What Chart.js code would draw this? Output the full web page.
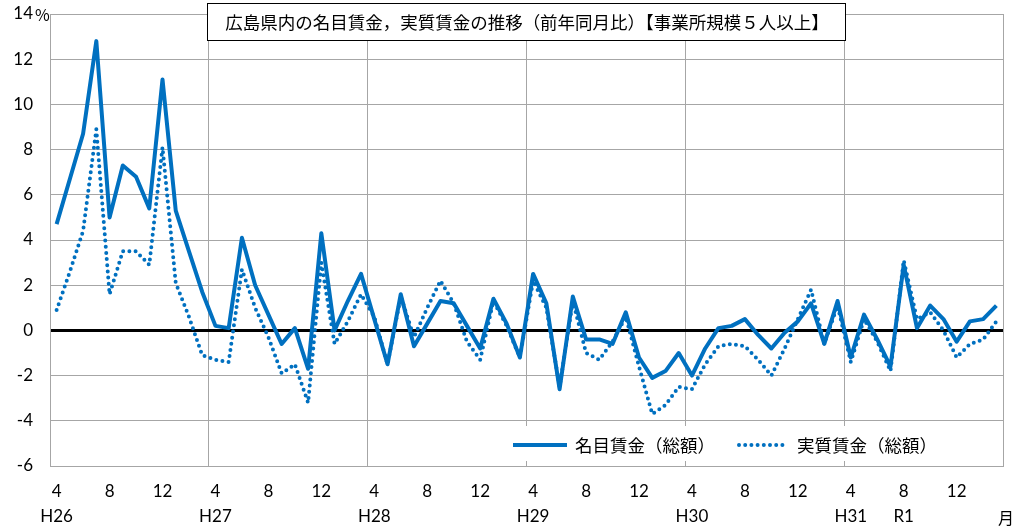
<!DOCTYPE html>
<html>
<head>
<meta charset="utf-8">
<script src="https://cdn.jsdelivr.net/npm/chart.js@4.4.1/dist/chart.umd.min.js"></script>
<style>
  html, body { margin: 0; padding: 0; background: #fff; }
  #wrap { width: 1016px; height: 531px; }
</style>
</head>
<body>
<div id="wrap"><canvas id="c" width="1016" height="531"></canvas></div>
<script>
// Monthly series, April 2014 (H26) to March 2020, year-on-year change (%)
const startYear = 2014;
const startMonth = 4;

const nominal = [
  4.7, 6.7, 8.7, 12.8, 5.0, 7.3, 6.8, 5.4, 11.1, 5.3,
  3.5, 1.7, 0.2, 0.1, 4.1, 2.0, 0.7, -0.6, 0.1, -1.7,
  4.3, 0.0, 1.3, 2.5, 0.5, -1.5, 1.6, -0.7, 0.3, 1.3,
  1.2, 0.2, -0.8, 1.4, 0.3, -1.2, 2.5, 1.2, -2.6, 1.5,
  -0.4, -0.4, -0.6, 0.8, -1.2, -2.1, -1.8, -1.0, -2.0, -0.8,
  0.1, 0.2, 0.5, -0.2, -0.8, -0.1, 0.4, 1.2, -0.6, 1.3,
  -1.2, 0.7, -0.4, -1.6, 2.9, 0.1, 1.1, 0.5, -0.5, 0.4,
  0.5, 1.1
];

const real = [
  0.9, 2.6, 4.4, 8.9, 1.6, 3.5, 3.5, 2.9, 8.1, 2.1,
  0.6, -1.1, -1.3, -1.4, 2.7, 1.0, -0.3, -1.9, -1.5, -3.2,
  3.0, -0.6, 0.4, 1.6, 0.6, -1.5, 1.5, -0.3, 1.0, 2.2,
  1.2, -0.5, -1.3, 1.3, 0.2, -1.2, 2.2, 1.0, -2.5, 1.3,
  -1.0, -1.3, -0.5, 0.6, -1.6, -3.7, -3.3, -2.5, -2.6, -1.5,
  -0.7, -0.6, -0.7, -1.3, -2.0, -0.8, 0.5, 1.8, -0.6, 1.1,
  -1.4, 0.5, -0.5, -1.8, 3.1, 0.5, 0.8, 0.0, -1.2, -0.6,
  -0.4, 0.4
];

const yMin = -6;
const yMax = 14;
const yStep = 2;

// era marks placed under the month number (index into the month list)
const eraTicks = [[0, 'H26'], [12, 'H27'], [24, 'H28'], [36, 'H29'], [48, 'H30'], [60, 'H31'], [64, 'R1']];

const seriesNames = ['名目賃金（総額）', '実質賃金（総額）'];
const titleText = '広島県内の名目賃金，実質賃金の推移（前年同月比）【事業所規模５人以上】';
const unitY = '%';
const unitX = '月';

const months = nominal.map((_, i) => ((startMonth - 1 + i) % 12) + 1);
const years = nominal.map((_, i) => startYear + Math.floor((startMonth - 1 + i) / 12));
const categories = months.map((m, i) => years[i] + '/' + m);
const eraMap = Object.fromEntries(eraTicks);

const BLUE = '#0070C0';
const GRID = '#a6a6a6';
const TICK_FONT = { family: 'Lato, "Open Sans", sans-serif', size: 17, lineHeight: 1.47 };
const JP_FONT = '"Noto Sans CJK JP", sans-serif';

const overlay = {
  id: 'overlay',
  afterDraw(chart) {
    const ctx = chart.ctx;
    ctx.save();

    // title box
    ctx.fillStyle = '#fff';
    ctx.fillRect(207.5, 3.5, 638, 37);
    ctx.strokeStyle = '#000';
    ctx.lineWidth = 1;
    ctx.strokeRect(207.5, 3.5, 638, 37);
    ctx.fillStyle = '#000';
    ctx.font = '17.5px ' + JP_FONT;
    ctx.textAlign = 'center';
    ctx.textBaseline = 'middle';
    ctx.fillText(titleText, 527, 22);

    // legend
    const ly = 445;
    ctx.fillStyle = '#fff';
    ctx.fillRect(505, 426, 450, 35);
    ctx.strokeStyle = BLUE;
    ctx.lineWidth = 4;
    ctx.lineCap = 'butt';
    ctx.beginPath();
    ctx.moveTo(513, ly);
    ctx.lineTo(567, ly);
    ctx.stroke();
    ctx.lineWidth = 4;
    ctx.lineCap = 'round';
    ctx.setLineDash([0, 6.2]);
    ctx.beginPath();
    ctx.moveTo(739, ly);
    ctx.lineTo(788, ly);
    ctx.stroke();
    ctx.setLineDash([]);
    ctx.fillStyle = '#000';
    ctx.font = '17.5px ' + JP_FONT;
    ctx.textAlign = 'left';
    ctx.fillText(seriesNames[0], 575, ly);
    ctx.fillText(seriesNames[1], 797, ly);

    // axis units
    ctx.font = '16px ' + JP_FONT;
    ctx.textAlign = 'left';
    ctx.fillText(unitY, 35, 15);
    ctx.textAlign = 'center';
    ctx.fillText(unitX, 1006, 518);

    ctx.restore();
  }
};

new Chart(document.getElementById('c'), {
  type: 'line',
  data: {
    labels: categories,
    datasets: [
      {
        label: seriesNames[0],
        data: nominal,
        borderColor: BLUE,
        borderWidth: 4,
        pointRadius: 0,
        tension: 0,
        borderJoinStyle: 'round'
      },
      {
        label: seriesNames[1],
        data: real,
        borderColor: BLUE,
        borderWidth: 4,
        borderDash: [0, 6.2],
        borderCapStyle: 'round',
        pointRadius: 0,
        tension: 0
      }
    ]
  },
  options: {
    responsive: false,
    animation: false,
    layout: { padding: { left: 0, right: 13, top: 14, bottom: 0 } },
    plugins: { legend: { display: false }, tooltip: { enabled: false }, title: { display: false } },
    scales: {
      x: {
        type: 'category',
        offset: true,
        afterFit(s) { s.height = 65; s.paddingLeft = 0; s.paddingRight = 0; },
        grid: {
          offset: true,
          drawTicks: false,
          color: (c) => (c.index === undefined || c.index % 12 === 0) ? GRID : 'rgba(0,0,0,0)',
          lineWidth: 1
        },
        border: { display: true, color: GRID, width: 1 },
        ticks: {
          autoSkip: false,
          maxRotation: 0,
          minRotation: 0,
          padding: 13.5,
          color: '#000',
          font: TICK_FONT,
          callback: (v, i) => {
            const m = months[i];
            if (m % 4 !== 0) return '';
            return [String(m), eraMap[i] || ''];
          }
        }
      },
      y: {
        min: yMin,
        max: yMax,
        afterFit(s) { s.width = 50; s.paddingTop = 0; s.paddingBottom = 0; },
        grid: {
          drawTicks: false,
          color: (c) => c.tick && c.tick.value === 0 ? '#000' : GRID,
          lineWidth: (c) => c.tick && c.tick.value === 0 ? 3 : 1
        },
        border: { display: true, color: GRID, width: 1 },
        ticks: {
          stepSize: yStep,
          padding: 17,
          color: '#000',
          font: TICK_FONT
        }
      }
    }
  },
  plugins: [overlay]
});
</script>
</body>
</html>
